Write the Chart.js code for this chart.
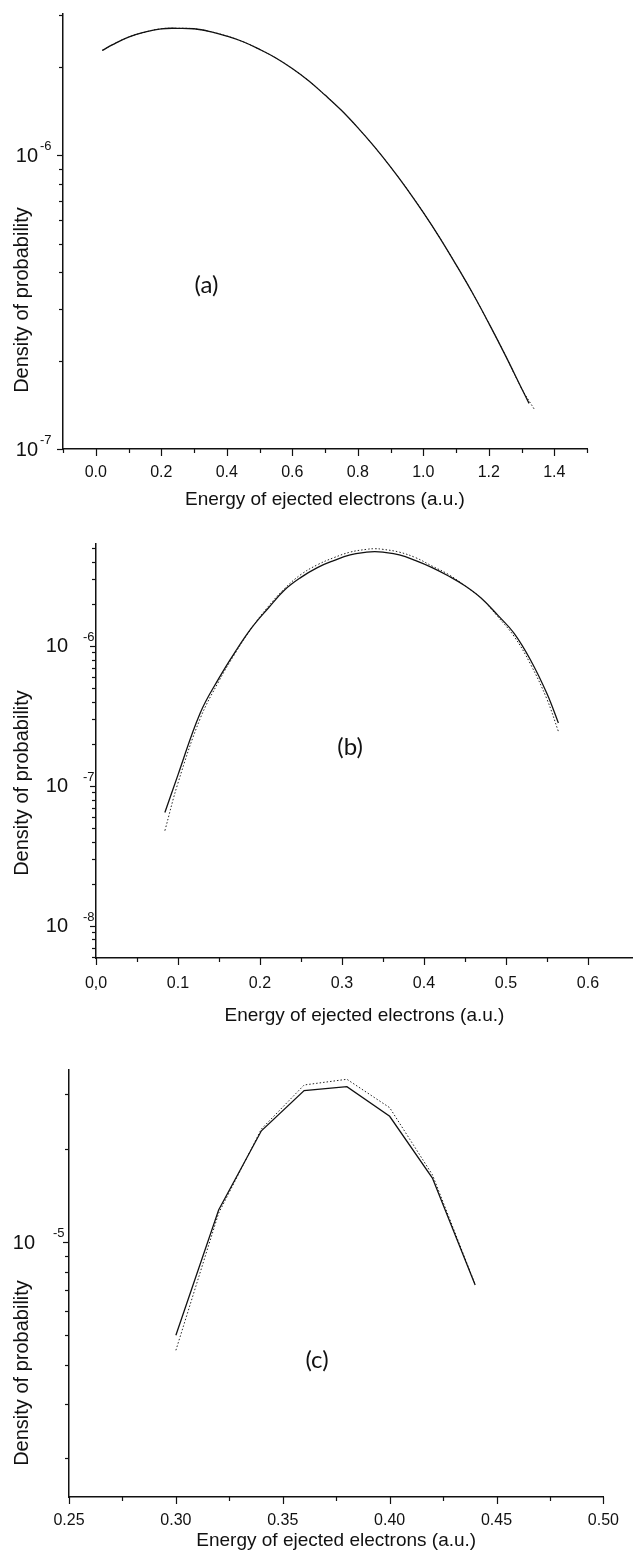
<!DOCTYPE html>
<html>
<head>
<meta charset="utf-8">
<script src="https://cdn.jsdelivr.net/npm/chart.js@4.4.1/dist/chart.umd.min.js"></script>
<style>
  html, body { margin: 0; padding: 0; background: #fff; }
  body { width: 633px; height: 1556px; position: relative; overflow: hidden; }
  canvas { position: absolute; left: 0; }
</style>
</head>
<body>
<canvas id="chartA" width="633" height="520" style="top:0"></canvas>
<canvas id="chartB" width="633" height="510" style="top:520px"></canvas>
<canvas id="chartC" width="633" height="526" style="top:1030px"></canvas>
<script>
// ---- panel (a) ----
const energyA = [0.02, 0.05, 0.10, 0.15, 0.20, 0.25, 0.30, 0.35, 0.40, 0.45, 0.50, 0.55, 0.60, 0.65,
  0.70, 0.75, 0.80, 0.85, 0.90, 0.95, 1.00, 1.05, 1.10, 1.15, 1.20, 1.25, 1.30, 1.323];
const solidA = [2.27e-6, 2.37e-6, 2.52e-6, 2.62e-6, 2.69e-6, 2.70e-6, 2.69e-6, 2.63e-6, 2.54e-6, 2.43e-6,
  2.29e-6, 2.14e-6, 1.97e-6, 1.79e-6, 1.60e-6, 1.42e-6, 1.24e-6, 1.07e-6, 9.12e-7, 7.68e-7,
  6.38e-7, 5.24e-7, 4.24e-7, 3.40e-7, 2.68e-7, 2.09e-7, 1.61e-7, 1.43e-7];
const energyADot = [0.02, 0.05, 0.10, 0.15, 0.20, 0.25, 0.30, 0.35, 0.40, 0.45, 0.50, 0.55, 0.60, 0.65,
  0.70, 0.75, 0.80, 0.85, 0.90, 0.95, 1.00, 1.05, 1.10, 1.15, 1.20, 1.25, 1.30, 1.34];
const dottedA = [2.27e-6, 2.37e-6, 2.52e-6, 2.62e-6, 2.69e-6, 2.70e-6, 2.69e-6, 2.63e-6, 2.54e-6, 2.43e-6,
  2.29e-6, 2.14e-6, 1.97e-6, 1.79e-6, 1.60e-6, 1.42e-6, 1.24e-6, 1.07e-6, 9.12e-7, 7.68e-7,
  6.38e-7, 5.24e-7, 4.24e-7, 3.40e-7, 2.68e-7, 2.09e-7, 1.61e-7, 1.36e-7];
const xTicksA = [-0.1, 0, 0.1, 0.2, 0.3, 0.4, 0.5, 0.6, 0.7, 0.8, 0.9, 1.0, 1.1, 1.2, 1.3, 1.4, 1.5];
const xLabelsA = ['', '0.0', '', '0.2', '', '0.4', '', '0.6', '', '0.8', '', '1.0', '', '1.2', '', '1.4', ''];
const decadesA = [-7, -6];

// ---- panel (b) ----
const energyB = [0.084, 0.10, 0.127, 0.15, 0.17, 0.19, 0.21, 0.23, 0.25, 0.27, 0.29, 0.31, 0.33, 0.34,
  0.35, 0.37, 0.39, 0.41, 0.43, 0.45, 0.47, 0.49, 0.51, 0.53, 0.55, 0.564];
const solidB = [6.46e-8, 1.20e-7, 3.31e-7, 5.89e-7, 9.12e-7, 1.35e-6, 1.86e-6, 2.51e-6, 3.09e-6, 3.63e-6,
  4.07e-6, 4.47e-6, 4.68e-6, 4.72e-6, 4.68e-6, 4.47e-6, 4.07e-6, 3.63e-6, 3.16e-6, 2.69e-6,
  2.19e-6, 1.66e-6, 1.23e-6, 7.94e-7, 4.57e-7, 2.82e-7];
const dottedB = [4.79e-8, 1.05e-7, 3.02e-7, 5.62e-7, 8.91e-7, 1.35e-6, 1.91e-6, 2.57e-6, 3.24e-6, 3.80e-6,
  4.27e-6, 4.68e-6, 4.90e-6, 4.95e-6, 4.90e-6, 4.68e-6, 4.27e-6, 3.72e-6, 3.24e-6, 2.69e-6,
  2.19e-6, 1.62e-6, 1.17e-6, 7.41e-7, 4.17e-7, 2.45e-7];
const xTicksB = [0, 0.05, 0.1, 0.15, 0.2, 0.25, 0.3, 0.35, 0.4, 0.45, 0.5, 0.55, 0.6];
const xLabelsB = ['0,0', '', '0.1', '', '0.2', '', '0.3', '', '0.4', '', '0.5', '', '0.6'];
const decadesB = [-8, -7, -6];

// ---- panel (c) ----
const energyC = [0.30, 0.32, 0.34, 0.36, 0.38, 0.40, 0.42, 0.44];
const solidC = [5.0e-6, 1.27e-5, 2.29e-5, 3.09e-5, 3.18e-5, 2.55e-5, 1.61e-5, 7.27e-6];
const dottedC = [4.47e-6, 1.24e-5, 2.32e-5, 3.22e-5, 3.36e-5, 2.72e-5, 1.65e-5, 7.3e-6];
const xTicksC = [0.25, 0.275, 0.30, 0.325, 0.35, 0.375, 0.40, 0.425, 0.45, 0.475, 0.50];
const xLabelsC = ['0.25', '', '0.30', '', '0.35', '', '0.40', '', '0.45', '', '0.50'];
const decadesC = [-5];

const xTitle = 'Energy of ejected electrons (a.u.)';
const yTitle = 'Density of probability';
const SANS = '"Liberation Sans", Arial, sans-serif';

function pts(xs, ys) {
  return xs.map((x, i) => ({ x: x, y: ys[i] }));
}

// 1..9 x 10^n ticks between min and max
function logTicks(min, max) {
  const out = [];
  for (let e = Math.floor(Math.log10(min)); e <= Math.ceil(Math.log10(max)); e++) {
    for (let s = 1; s <= 9; s++) {
      const v = s * Math.pow(10, e);
      if (v >= min * 0.999 && v <= max * 1.001) out.push(v);
    }
  }
  return out;
}

function isDecade(v) {
  const l = Math.log10(v);
  return Math.abs(l - Math.round(l)) < 1e-6;
}

// tick marks, 10^n labels, panel letter and axis titles
const decor = {
  id: 'decor',
  afterDraw(chart, args, o) {
    const ctx = chart.ctx;
    const xs = chart.scales.x, ys = chart.scales.y;
    const area = chart.chartArea;
    ctx.save();
    ctx.strokeStyle = '#111';
    ctx.lineWidth = 1.2;
    xs.ticks.forEach((t, i) => {
      const px = Math.round(xs.getPixelForValue(t.value)) + 0.5;
      const len = o.xLabels[i] ? 7 : 4;
      ctx.beginPath();
      ctx.moveTo(px, area.bottom);
      ctx.lineTo(px, area.bottom + len);
      ctx.stroke();
    });
    ys.ticks.forEach(t => {
      const py = Math.round(ys.getPixelForValue(t.value)) + 0.5;
      const len = isDecade(t.value) ? 6 : 4;
      ctx.beginPath();
      ctx.moveTo(area.left, py);
      ctx.lineTo(area.left - len, py);
      ctx.stroke();
    });

    ctx.fillStyle = '#111';
    o.decades.forEach(e => {
      const py = ys.getPixelForValue(Math.pow(10, e));
      ctx.font = '20px ' + SANS;
      ctx.textAlign = 'right';
      ctx.textBaseline = 'middle';
      ctx.fillText('10', area.left - o.tenOff, py + 1);
      ctx.font = '13px ' + SANS;
      ctx.textAlign = 'left';
      ctx.fillText(String(e), area.left - o.expOff, py - 9);
    });

    ctx.font = '24px Lato';
    ctx.textAlign = 'center';
    ctx.textBaseline = 'middle';
    ctx.fillText(o.letter, xs.getPixelForValue(o.letterAt[0]), ys.getPixelForValue(o.letterAt[1]));

    ctx.font = '19px ' + SANS;
    ctx.fillText(xTitle, (area.left + area.right) / 2, o.xTitleY);
    ctx.translate(22, o.yTitleY);
    ctx.rotate(-Math.PI / 2);
    ctx.font = '20px ' + SANS;
    ctx.fillText(yTitle, 0, 0);
    ctx.restore();
  }
};

function makeChart(id, p) {
  const canvas = document.getElementById(id);
  return new Chart(canvas, {
    type: 'line',
    data: {
      datasets: [
        {
          data: pts(p.xs, p.solid),
          borderColor: '#111',
          borderWidth: 1.3,
          pointRadius: 0,
          tension: p.tension,
          fill: false
        },
        {
          data: pts(p.xsDot, p.dotted),
          borderColor: '#222',
          borderWidth: 1,
          borderDash: [1.5, 2],
          pointRadius: 0,
          tension: p.tension,
          fill: false
        }
      ]
    },
    options: {
      responsive: false,
      animation: false,
      events: [],
      layout: {
        autoPadding: false,
        padding: { left: 0, top: p.top, right: p.padRight, bottom: 0 }
      },
      plugins: {
        legend: { display: false },
        tooltip: { enabled: false },
        decor: {
          xLabels: p.xLabels,
          decades: p.decades,
          letter: p.letter,
          letterAt: p.letterAt,
          tenOff: p.tenOff,
          expOff: p.expOff,
          xTitleY: p.xTitleY,
          yTitleY: p.yTitleY
        }
      },
      scales: {
        x: {
          type: 'linear',
          min: p.xMin,
          max: p.xMax,
          afterBuildTicks: s => { s.ticks = p.xTicks.map(v => ({ value: v })); },
          afterFit: s => { s.height = canvas.height - p.bottom; },
          grid: { display: false, drawTicks: false },
          border: { display: true, color: '#111', width: 1.5 },
          ticks: {
            autoSkip: false,
            maxRotation: 0,
            padding: p.tickPad,
            color: '#111',
            font: { family: SANS, size: 16 },
            callback: (v, i) => p.xLabels[i]
          }
        },
        y: {
          type: 'logarithmic',
          min: p.yMin,
          max: p.yMax,
          afterBuildTicks: s => { s.ticks = logTicks(p.yMin, p.yMax).map(v => ({ value: v })); },
          afterFit: s => { s.width = p.left; },
          grid: { display: false, drawTicks: false },
          border: { display: true, color: '#111', width: 1.5 },
          ticks: { display: false }
        }
      }
    },
    plugins: [decor]
  });
}

makeChart('chartA', {
  xs: energyA, solid: solidA, xsDot: energyADot, dotted: dottedA, tension: 0.4,
  xMin: -0.1, xMax: 1.5, yMin: 1e-7, yMax: 3.02e-6,
  xTicks: xTicksA, xLabels: xLabelsA, decades: decadesA,
  left: 63, padRight: 46, top: 14, bottom: 449, tickPad: 14,
  letter: '(a)', letterAt: [0.338, 3.6e-7],
  tenOff: 25, expOff: 23, xTitleY: 500, yTitleY: 300
});

makeChart('chartB', {
  xs: energyB, solid: solidB, xsDot: energyB, dotted: dottedB, tension: 0.4,
  xMin: 0, xMax: 0.655, yMin: 5.9e-9, yMax: 5.35e-6,
  xTicks: xTicksB, xLabels: xLabelsB, decades: decadesB,
  left: 96, padRight: 0, top: 24, bottom: 438, tickPad: 16,
  letter: '(b)', letterAt: [0.31, 1.9e-7],
  tenOff: 28, expOff: 13, xTitleY: 496, yTitleY: 263
});

makeChart('chartC', {
  xs: energyC, solid: solidC, xsDot: energyC, dotted: dottedC, tension: 0,
  xMin: 0.25, xMax: 0.50, yMin: 1.5e-6, yMax: 3.6e-5,
  xTicks: xTicksC, xLabels: xLabelsC, decades: decadesC,
  left: 69, padRight: 17, top: 40, bottom: 467, tickPad: 14,
  letter: '(c)', letterAt: [0.366, 4.15e-6],
  tenOff: 34, expOff: 16, xTitleY: 511, yTitleY: 343
});
</script>
</body>
</html>
